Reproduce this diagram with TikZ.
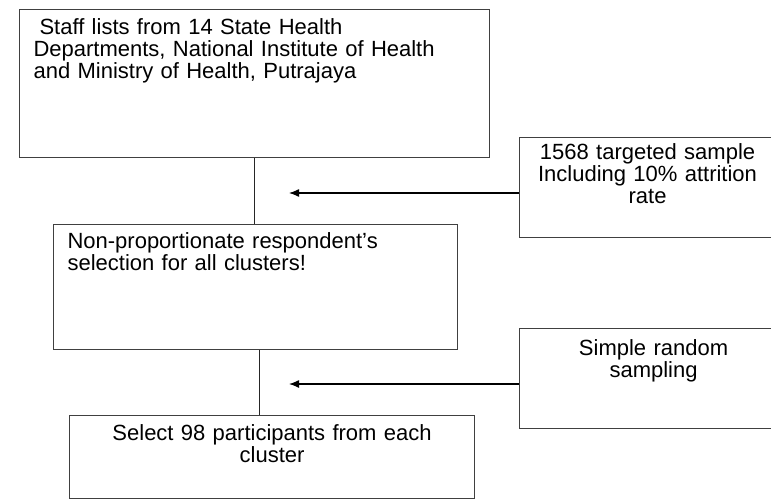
\documentclass[tikz,border=0pt]{standalone}
\usepackage{fontspec}
\setmainfont{Liberation Sans}
\usetikzlibrary{arrows.meta, positioning}

\tikzset{
  stage/.style={draw=black!75, line width=1.1pt, anchor=north west, inner ysep=0pt,
    font=\fontsize{22}{22}\selectfont},
  feed/.style={draw=black, line width=1.3pt, -{Latex[length=10pt,width=8pt]}},
  link/.style={draw=black!85, line width=1.1pt}
}

\begin{document}
\begin{tikzpicture}[x=1pt, y=-1pt]
		\useasboundingbox (0,0) rectangle (771,500);
		\draw (19,9)   node[stage, align=left, inner xsep=14pt, text width=442pt, text height=25pt, text depth=123pt] (s1) {\hspace*{6pt}Staff lists from 14 State Health\\Departments, National Institute of Health\\and Ministry of Health, Putrajaya}
		(53,224)  node[stage, align=left, inner xsep=14pt, text width=376pt, text height=24pt, text depth=101pt] (s2) {Non-proportionate respondent's\\selection for all clusters!}
		(69,415)  node[stage, align=center, inner xsep=4pt, text width=397pt, text height=25pt, text depth=58pt] (s3) {Select 98 participants from each\\cluster}
		(519,137) node[stage, align=center, inner xsep=4pt, text width=248pt, text height=22pt, text depth=78pt] (n1) {1568 targeted sample\\Including 10\% attrition\\rate}
		(519,328) node[stage, align=center, inner xsep=4pt, text width=260pt, text height=27pt, text depth=73pt] (n2) {Simple random\\sampling};

		\coordinate (a1) at (289,193);
		\coordinate (a2) at (289,384);

		\draw[link] (s1.south) -- (s1.south |- s2.north);
		\draw[link] ([xshift=4pt]s2.south) -- ([xshift=4pt]s2.south |- s3.north);
		\draw[feed] (n1.west |- a1) -- (a1);
		\draw[feed] (n2.west |- a2) -- (a2);
	\end{tikzpicture}
\end{document}
